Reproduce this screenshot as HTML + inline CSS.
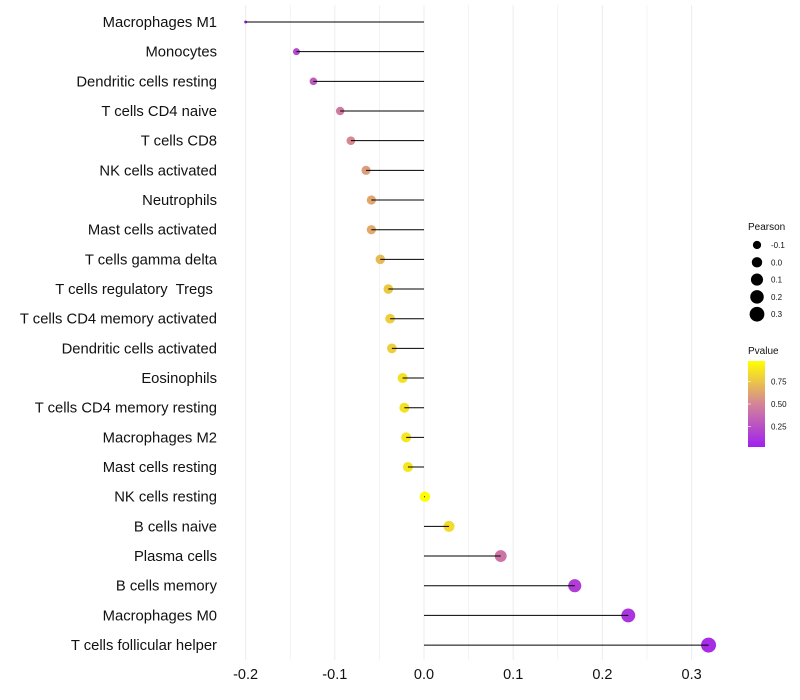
<!DOCTYPE html>
<html><head><meta charset="utf-8"><style>
body{margin:0;background:#fff;}
svg{display:block;font-family:"Liberation Sans",sans-serif;}
text{white-space:pre;}
</style></head><body>
<svg id="c" width="800" height="700"></svg>
<script>
const categories=["Macrophages M1","Monocytes","Dendritic cells resting","T cells CD4 naive","T cells CD8","NK cells activated","Neutrophils","Mast cells activated","T cells gamma delta","T cells regulatory  Tregs ","T cells CD4 memory activated","Dendritic cells activated","Eosinophils","T cells CD4 memory resting","Macrophages M2","Mast cells resting","NK cells resting","B cells naive","Plasma cells","B cells memory","Macrophages M0","T cells follicular helper"];
const pearson=[-0.2,-0.143,-0.124,-0.094,-0.082,-0.065,-0.059,-0.059,-0.049,-0.040,-0.038,-0.036,-0.024,-0.022,-0.020,-0.018,0.001,0.028,0.086,0.169,0.229,0.319];
const pvalue=[0.05,0.2,0.3,0.45,0.52,0.6,0.64,0.65,0.72,0.78,0.8,0.8,0.88,0.88,0.9,0.9,0.99,0.85,0.42,0.15,0.1,0.06];
const xTicks=[-0.2,-0.1,0,0.1,0.2,0.3];
const xTickLabels=["-0.2","-0.1","0.0","0.1","0.2","0.3"];
const sizeLegend=[-0.1,0,0.1,0.2,0.3];
const pTicks=[0.25,0.5,0.75];

const NS="http://www.w3.org/2000/svg";
const svg=document.getElementById('c');
const x=v=>424+(v)*892;
const y=i=>22+i*29.67;
const r=v=>1.5+6*Math.sqrt(Math.max(0,(v+0.2)/0.52));
const lo=[160,32,240],hi=[255,255,0],mid=[212,132,152];
function col(p){let a,b,t;if(p<0.5){a=lo;b=mid;t=p/0.5;}else{a=mid;b=hi;t=(p-0.5)/0.5;}
 return 'rgb('+a.map((c,k)=>Math.round(c+(b[k]-c)*t)).join(',')+')';}
function mk(tag,at,txt){const e=document.createElementNS(NS,tag);for(const k in at)e.setAttribute(k,at[k]);if(txt!=null)e.textContent=txt;svg.appendChild(e);return e;}

for(let v=-0.2;v<=0.31;v+=0.05){
 const g=mk('line',{x1:x(v),x2:x(v),y1:5,y2:660,stroke:'#ececec','stroke-width':Math.abs(Math.round(v*20))%2?0.6:1});
 
 
}
xTicks.forEach((v,i)=>{
 const t=mk('text',{x:x(v),y:679,'text-anchor':'middle','font-size':14.5,fill:'#111'},xTickLabels[i]);
 
 
});
categories.forEach((c,i)=>{
 const t=mk('text',{x:217,y:y(i)+5,'text-anchor':'end','font-size':14.8,fill:'#111'},c);
 
 
 const p=mk('circle',{cx:x(pearson[i]),cy:y(i),r:r(pearson[i]),fill:col(pvalue[i])});
 
 
 const l=mk('line',{x1:x(0),x2:x(pearson[i]),y1:y(i),y2:y(i),stroke:'#000','stroke-width':1});
 
 
});
let t0=mk('text',{x:748,y:230,'font-size':10,fill:'#111'},'Pearson');


sizeLegend.forEach((v,i)=>{
 const cy=245+i*17.3;
 const c=mk('circle',{cx:757,cy:cy,r:r(v),fill:'#000'});
 
 
 const t=mk('text',{x:771,y:cy+3,'font-size':8,fill:'#111'},v.toFixed(1));
 
 
});
const defs=mk('defs',{});
const lg=document.createElementNS(NS,'linearGradient');
lg.setAttribute('id','pg');lg.setAttribute('x1','0');lg.setAttribute('y1','1');lg.setAttribute('x2','0');lg.setAttribute('y2','0');
[0,0.25,0.5,0.75,1].forEach(s=>{const st=document.createElementNS(NS,'stop');st.setAttribute('offset',s);st.setAttribute('stop-color',col(s));lg.appendChild(st);});
defs.appendChild(lg);
let t1=mk('text',{x:748,y:354,'font-size':10,fill:'#111'},'Pvalue');


const py=p=>447-(p-0.02)/0.96*86;
let bar=mk('rect',{x:748,y:361,width:17,height:86,fill:'url(#pg)'});


pTicks.forEach(p=>{
 const t=mk('text',{x:771,y:py(p)+3,'font-size':8,fill:'#111'},p.toFixed(2));
 
 
 const tk=mk('line',{x1:748,x2:751,y1:py(p),y2:py(p),stroke:'#fff','stroke-width':0.6});
 
 
});
</script>
</body></html>
